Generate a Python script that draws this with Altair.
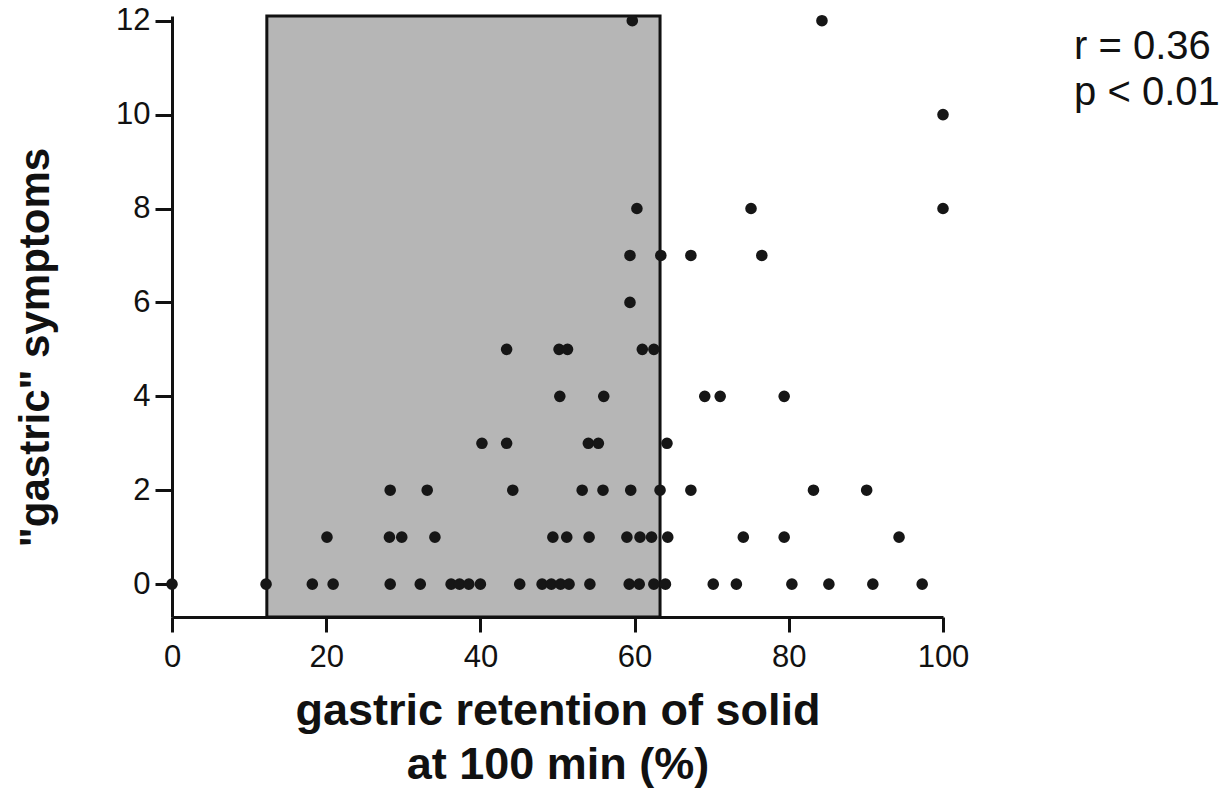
import altair as alt
import pandas as pd

# ---- data (retention %, symptom score) ----
row0 = [0, 12.2, 18.2, 20.9, 28.3, 32.2, 36.2, 37.3, 38.5, 40.0, 45.1, 48.0, 49.2,
        50.4, 51.5, 54.2, 59.3, 60.6, 62.5, 64.0, 70.2, 73.2, 80.4, 85.2, 90.9, 97.3]
row1 = [20.1, 28.2, 29.8, 34.1, 49.4, 51.2, 54.1, 59.0, 60.7, 62.2, 64.3, 74.1, 79.4, 94.3]
row2 = [28.3, 33.1, 44.2, 53.2, 55.9, 59.5, 63.3, 67.3, 83.2, 90.1]
row3 = [40.2, 43.4, 54.0, 55.3, 64.2]
row4 = [50.3, 56.0, 69.1, 71.1, 79.4]
row5 = [43.4, 50.2, 51.3, 61.0, 62.5]
row6 = [59.4]
row7 = [59.4, 63.4, 67.3, 76.5]
row8 = [60.3, 75.1, 100.0]
row10 = [100.0]
row12 = [59.7, 84.3]

rows = {0: row0, 1: row1, 2: row2, 3: row3, 4: row4, 5: row5,
        6: row6, 7: row7, 8: row8, 10: row10, 12: row12}

retention = []
symptoms = []
for s, xs in rows.items():
    for x in xs:
        retention.append(x)
        symptoms.append(s)

# normal range box
box_x = [12.3, 63.3]
box_y = [-0.7, 12.1]

# statistics annotation
stat_labels = ["r = 0.36", "p < 0.01"]
stat_x = [117, 117]
stat_y = [11.45, 10.45]

x_ticks = [0, 20, 40, 60, 80, 100]
y_ticks = [0, 2, 4, 6, 8, 10, 12]

pts = pd.DataFrame({"retention": retention, "symptoms": symptoms})
box = pd.DataFrame({"x": [box_x[0]], "x2": [box_x[1]], "y": [box_y[0]], "y2": [box_y[1]]})
stats = pd.DataFrame({"label": stat_labels, "x": stat_x, "y": stat_y})

FONT = "Liberation Sans"

xscale = alt.Scale(domain=[0, 100], nice=False, zero=False)
yscale = alt.Scale(domain=[box_y[0], box_y[1]], nice=False, zero=False)

xaxis = alt.Axis(
    values=x_ticks, title=["gastric retention of solid", "at 100 min (%)"],
    grid=False, domainColor="#111", domainWidth=3, tickColor="#111", tickWidth=3,
    tickSize=15, labelFontSize=31, labelFont=FONT, labelColor="#111", labelPadding=10,
    labelFlush=False,
    titleFont=FONT, titleFontSize=45, titleFontWeight="bold", titleColor="#111",
    titlePadding=16, titleLineHeight=54,
)
yaxis = alt.Axis(
    values=y_ticks, title='"gastric" symptoms',
    grid=False, domainColor="#111", domainWidth=3, tickColor="#111", tickWidth=3,
    tickSize=17, labelFontSize=31, labelFont=FONT, labelColor="#111", labelPadding=5,
    labelFlush=False,
    titleFont=FONT, titleFontSize=42, titleFontWeight="bold", titleColor="#111",
    titleAngle=270, titleX=-137, titleY=331, titleBaseline="middle", titleAlign="center",
)

rect = alt.Chart(box).mark_rect(
    fill="#b6b6b6", stroke="#111", strokeWidth=3
).encode(
    x=alt.X("x:Q", scale=xscale, axis=xaxis),
    x2="x2:Q",
    y=alt.Y("y:Q", scale=yscale, axis=yaxis),
    y2="y2:Q",
)

points = alt.Chart(pts).mark_circle(size=135, color="#161616", opacity=1).encode(
    x=alt.X("retention:Q", scale=xscale),
    y=alt.Y("symptoms:Q", scale=yscale),
)

text = alt.Chart(stats).mark_text(
    align="left", baseline="middle", fontSize=40, font=FONT, color="#111"
).encode(
    x=alt.X("x:Q", scale=xscale),
    y=alt.Y("y:Q", scale=yscale),
    text="label:N",
)

chart = alt.layer(rect, points, text).properties(
    width=771, height=601,
    autosize=alt.AutoSizeParams(type="none"),
    padding={"left": 172, "top": 16, "right": 288, "bottom": 174},
    background="white",
).configure_view(stroke=None)

chart.save("out.html", embed_options={"renderer": "svg", "actions": False})
